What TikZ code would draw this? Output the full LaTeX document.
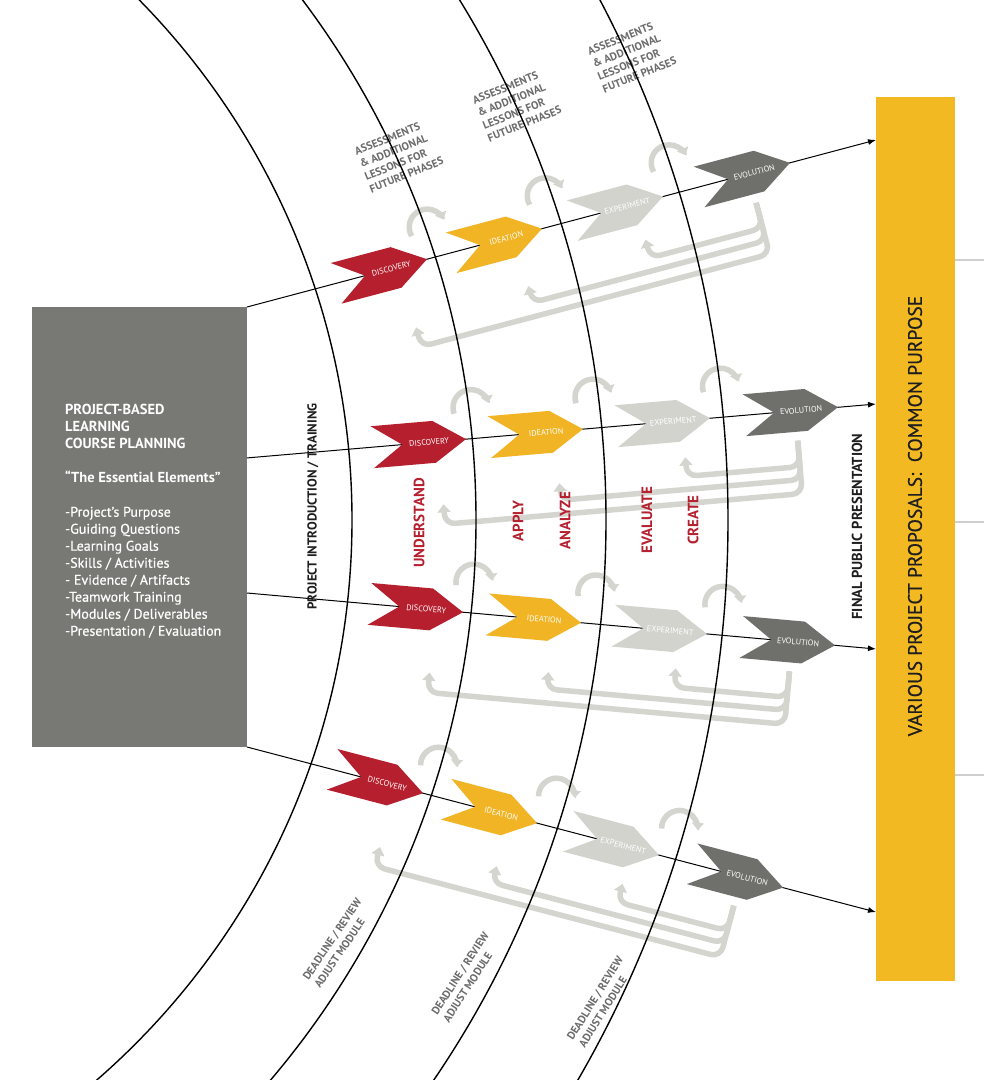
\documentclass[tikz,border=0pt]{standalone}
\usepackage{fontspec}
\setmainfont{PT Sans}
\newfontfamily\pblsemi[FakeBold=0.5]{PT Sans}
\usetikzlibrary{arrows.meta,calc}
\definecolor{pblred}{HTML}{B51F2E}
\definecolor{pblgold}{HTML}{F1B424}
\definecolor{pbllight}{HTML}{D3D3CE}
\definecolor{pbldark}{HTML}{6F6F6C}
\definecolor{pblbox}{HTML}{787874}
\definecolor{pblbar}{HTML}{F3B923}
\definecolor{pblloop}{HTML}{D5D5D0}
\definecolor{pblgraytext}{HTML}{6B6B6B}
\definecolor{pblink}{HTML}{1E1E1E}
\definecolor{pblstub}{HTML}{CFCFCF}
\tikzset{
  pblarc/.style={line width=1.4pt, black},
  rowline/.style={line width=1pt, black, -{Latex[length=8pt,width=6pt]}},
  chevlabel/.style={text=white, font=\fontsize{8.2}{9}\selectfont, inner sep=0pt},
  pblhopline/.style={pblloop, line width=5.5pt, -{Triangle[width=12pt,length=7pt]}},
  pblret/.style={pblloop, line width=5.5pt, rounded corners=10pt, -{Triangle[width=13pt,length=8pt]}},
  assess/.style={text=pblgraytext, font=\bfseries\fontsize{11}{13.5}\selectfont, align=left, inner sep=0pt},
  deadline/.style={text=pblgraytext, font=\bfseries\fontsize{11}{14}\selectfont, align=left, inner sep=0pt},
  bloom/.style={text=pblred, font=\bfseries\fontsize{15}{16}\selectfont, rotate=90, inner sep=0pt},
  sidelabel/.style={text=pblink, rotate=90, inner sep=0pt},
  boxshape/.style={fill=pblbox, minimum width=215pt, minimum height=440pt, inner sep=0pt, outer sep=0pt},
  barshape/.style={fill=pblbar, minimum width=79pt, minimum height=884pt, inner sep=0pt, outer sep=0pt},
  boxtext/.style={text=white, font=\pblsemi\fontsize{14}{17}\selectfont, align=left, inner sep=0pt, anchor=west},
  stub/.style={pblstub, line width=1.5pt},
}
\newcommand\pblhead[1]{{\normalfont\bfseries\fontsize{14.5}{17}\selectfont #1}}
% chevron: #1 tip distance, #2 colour, #3 label, #4 name, #5 angle
\newcommand\pblchev[5]{%
  \fill[#2] (#1,0) -- ++(-32,-21) -- ++(-62,0) -- ++(30,21) -- ++(-30,21) -- ++(62,0) -- cycle;
  \node[chevlabel, rotate=#5] (#4) at ({#1-37},0) {#3};}
% hop: #1 tip of first, #2 tip of next, #3 name
\newcommand\pblhop[3]{%
  \coordinate (#3) at ({(#1+#2-94)/2-4+18*cos(165)},{-31+18*sin(165)});
  \draw[pblhopline] (#3) arc[start angle=165, end angle=350, radius=18];}
% row: #1 id, #2 angle, #3..#6 tip distances
\newcommand\pblrow[6]{%
  \begin{scope}[shift={(#1s)}, rotate=#2]
    \pblchev{#3}{pblred}{DISCOVERY}{#1dis}{#2}
    \pblchev{#4}{pblgold}{IDEATION}{#1ide}{#2}
    \pblchev{#5}{pbllight}{EXPERIMENT}{#1exp}{#2}
    \pblchev{#6}{pbldark}{EVOLUTION}{#1evo}{#2}
    \pblhop{#3}{#4}{#1ha}
    \pblhop{#4}{#5}{#1hb}
    \pblhop{#5}{#6}{#1hc}
    \coordinate (#1st) at ({#6-43},30);
    \draw[pblret] (#1st) -- ({#6-43},56) -- ({#5-28},56) -- ({#5-28},37);
    \draw[pblret] (#1st) -- ({#6-43},69) -- ({#4-28},69) -- ({#4-28},52);
    \draw[pblret] (#1st) -- ({#6-43},83) -- ({#3-28},83) -- ({#3-28},63);
  \end{scope}}
\begin{document}
\begin{tikzpicture}[x=1pt,y=-1pt]
\useasboundingbox (0,0) rectangle (984,1080);
\fill[white] (0,0) rectangle (984,1080);
% left box and right bar
\node[boxshape] (box) at (139.5,527) {};
\node[barshape] (bar) at (915.5,539) {};
\node[boxtext] (boxlabel) at (65,521) {\pblhead{PROJECT-BASED}\\\pblhead{LEARNING}\\\pblhead{COURSE PLANNING}\\[17pt]\pblhead{“The Essential Elements”}\\[17pt]-Project’s Purpose\\-Guiding Questions\\-Learning Goals\\-Skills / Activities\\- Evidence / Artifacts\\-Teamwork Training\\-Modules / Deliverables\\-Presentation / Evaluation};
\node[rotate=90, text=pblink, font=\pblsemi\fontsize{19.5}{22}\selectfont, inner sep=0pt] (bartext) at (915,516) {VARIOUS PROJECT PROPOSALS:\ \ COMMON PURPOSE};
% stubs right of bar
\coordinate (stuba) at (984,260);
\coordinate (stubb) at (984,522);
\coordinate (stubc) at (984,775);
\draw[stub] (bar.north east |- stuba) -- (stuba);
\draw[stub] (bar.north east |- stubb) -- (stubb);
\draw[stub] (bar.north east |- stubc) -- (stubc);
% row endpoints
\coordinate (r1s) at (box.north east);
\coordinate (r2s) at ($(box.north east)!0.343!(box.south east)$);
\coordinate (r3s) at ($(box.north east)!0.65!(box.south east)$);
\coordinate (r4s) at (box.south east);
\coordinate (r1e) at ($(bar.north west)!0.0486!(bar.south west)$);
\coordinate (r2e) at ($(bar.north west)!0.3473!(bar.south west)$);
\coordinate (r3e) at ($(bar.north west)!0.6244!(bar.south west)$);
\coordinate (r4e) at ($(bar.north west)!0.922!(bar.south west)$);
\draw[rowline] (r1s) -- (r1e);
\draw[rowline] (r2s) -- (r2e);
\draw[rowline] (r3s) -- (r3e);
\draw[rowline] (r4s) -- (r4e);
% rows
\pblrow{r1}{14.87}{186.2}{305.2}{430.4}{561.8}
\pblrow{r2}{4.91}{219.8}{337.2}{464.7}{593.2}
\pblrow{r3}{-5.09}{216.9}{335.3}{461.8}{590.3}
\pblrow{r4}{-14.70}{182.0}{299.8}{426.0}{554.2}
% Bloom labels
\node[bloom] (bunder) at (419,523) {UNDERSTAND};
\node[bloom] (bapply) at (518,521) {APPLY};
\node[bloom] (banaly) at (565,521) {ANALYZE};
\node[bloom] (beval) at (647,520) {EVALUATE};
\node[bloom] (bcreate) at (693,520) {CREATE};
% side labels
\node[sidelabel, font=\bfseries\fontsize{13}{15}\selectfont] (intro) at (313,506.5) {PROJECT INTRODUCTION / TRAINING};
\node[sidelabel, font=\bfseries\fontsize{14.5}{16}\selectfont] (final) at (857,526.5) {FINAL PUBLIC PRESENTATION};
% assessments
\node[assess, rotate=22] (asa) at (399,156) {ASSESSMENTS\\\& ADDITIONAL\\LESSONS FOR\\FUTURE PHASES};
\node[assess, rotate=22] (asb) at (517,105) {ASSESSMENTS\\\& ADDITIONAL\\LESSONS FOR\\FUTURE PHASES};
\node[assess, rotate=22] (asc) at (632,56) {ASSESSMENTS\\\& ADDITIONAL\\LESSONS FOR\\FUTURE PHASES};
% deadlines
\node[deadline, rotate=56] (dla) at (338,943) {DEADLINE / REVIEW\\ADJUST MODULE};
\node[deadline, rotate=57] (dlb) at (466,977) {DEADLINE / REVIEW\\ADJUST MODULE};
\node[deadline, rotate=58] (dlc) at (601,1002) {DEADLINE / REVIEW\\ADJUST MODULE};
% phase arcs
\coordinate (arccentre) at (-390,520);
\begin{scope}
  \clip (0,0) rectangle (984,1080);
  \draw[pblarc] (arccentre) circle[radius=742];
  \draw[pblarc] (arccentre) circle[radius=866];
  \draw[pblarc] (arccentre) circle[radius=996];
  \draw[pblarc] (arccentre) circle[radius=1118];
\end{scope}
\end{tikzpicture}
\end{document}
